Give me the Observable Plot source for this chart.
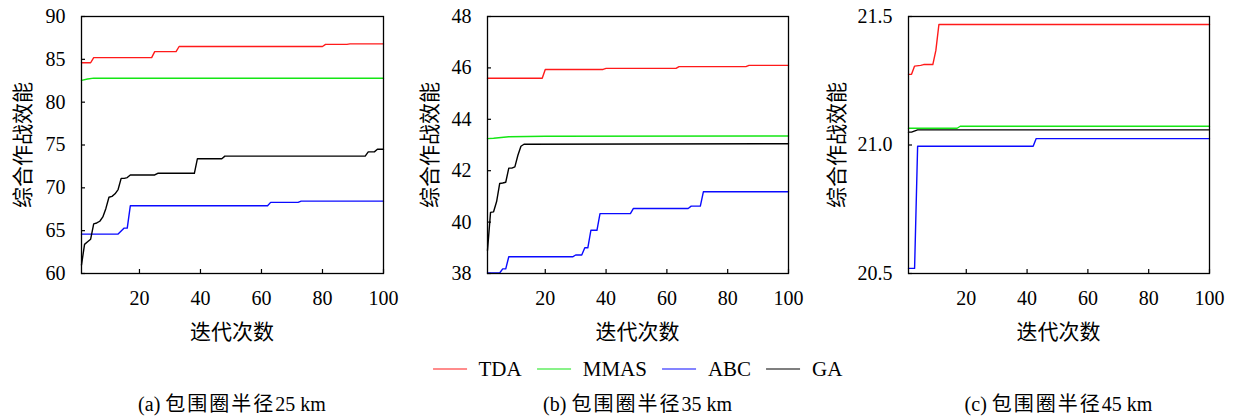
<!DOCTYPE html>
<html><head><meta charset="utf-8">
<script src="https://cdn.jsdelivr.net/npm/d3@7"></script>
<script src="https://cdn.jsdelivr.net/npm/@observablehq/plot@0.6"></script>
<style>
body{margin:0;background:#fff;}
#wrap{position:relative;width:1236px;height:419px;font-family:"Liberation Serif","Times New Roman",Tinos,"DejaVu Serif",serif;color:#000;overflow:hidden;}
.panel{position:absolute;top:0;}
.lbl{position:absolute;white-space:nowrap;line-height:1;}
.cjk{font-family:"Noto Sans CJK SC",sans-serif;}
.legend{position:absolute;display:flex;align-items:center;white-space:nowrap;line-height:1;}
.legend .sw{display:inline-block;width:34px;height:0;border-top:1.5px solid;margin-right:12px;}
.legend .tx{margin-right:15px;}
</style></head><body><div id="wrap"></div>
<script>
// ---------- data ----------
const seriesNames = ["TDA", "MMAS", "ABC", "GA"];
const seriesColors = ["#ff1a1a", "#14e614", "#0a0aff", "#000000"];
const iterTicks = [20, 40, 60, 80, 100];
const yTicks25 = [60, 65, 70, 75, 80, 85, 90];
const yTicks35 = [38, 40, 42, 44, 46, 48];
const yTicks45 = [20.5, 21.0, 21.5];
const yLabel = "综合作战效能";
const xLabel = "迭代次数";
const captionTags = ["(a)", "(b)", "(c)"];
const captionTexts = ["包围圈半径", "包围圈半径", "包围圈半径"];
const captionRadii = ["25 km", "35 km", "45 km"];

// panel (a): radius 25 km  [iteration, value]
const tda25 = [[1,84.6],[4,84.6],[5,85.2],[24,85.2],[25,85.9],[32,85.9],[33,86.5],[80,86.5],[81,86.75],[88,86.75],[89,86.8],[100,86.8]];
const mmas25 = [[1,82.55],[3,82.7],[5,82.8],[100,82.8]];
const abc25 = [[1,64.6],[13,64.6],[15,65.3],[16,65.3],[17,67.9],[62,67.9],[63,68.3],[72,68.3],[73,68.45],[100,68.45]];
const ga25 = [[1,61.0],[2,63.4],[3,63.7],[4,64.0],[5,65.8],[6,65.9],[7,66.1],[8,66.6],[9,67.6],[10,68.9],[11,69.0],[12,69.3],[13,69.8],[14,71.1],[15,71.1],[16,71.2],[17,71.5],[25,71.5],[26,71.7],[38,71.7],[39,73.4],[47,73.4],[48,73.7],[94,73.7],[95,74.2],[97,74.2],[98,74.5],[100,74.5]];

// panel (b): radius 35 km
const tda35 = [[1,45.6],[19,45.6],[20,45.94],[39,45.94],[40,45.98],[63,45.98],[64,46.05],[86,46.05],[87,46.1],[100,46.1]];
const mmas35 = [[1,43.25],[3,43.26],[8,43.32],[20,43.34],[100,43.35]];
const abc35 = [[1,38.02],[5,38.02],[6,38.18],[7,38.18],[8,38.65],[29,38.65],[30,38.72],[32,38.72],[33,39.0],[34,39.0],[35,39.68],[37,39.68],[38,40.33],[48,40.33],[49,40.53],[67,40.53],[68,40.62],[71,40.62],[72,41.18],[100,41.18]];
const ga35 = [[1,38.9],[2,40.38],[3,40.4],[4,40.8],[5,41.5],[6,41.52],[7,41.55],[8,42.1],[9,42.1],[10,42.15],[11,42.6],[12,42.95],[13,43.03],[100,43.05]];

// panel (c): radius 45 km
const tda45 = [[1,21.275],[2,21.275],[3,21.307],[5,21.31],[6,21.313],[9,21.313],[10,21.368],[11,21.469],[100,21.469]];
const mmas45 = [[1,21.065],[17,21.065],[18,21.073],[100,21.073]];
const abc45 = [[1,20.52],[3,20.52],[4,20.995],[42,20.995],[43,21.025],[100,21.025]];
const ga45 = [[1,21.05],[2,21.05],[4,21.059],[100,21.059]];

// ---------- build ----------
function rows(name, pts) { return pts.map(([i, v]) => ({series: name, iter: i, value: v})); }
const fontStack = '"Liberation Serif","Times New Roman",Tinos,"DejaVu Serif",serif';

const panels = [
  {data: [rows("TDA",tda25), rows("MMAS",mmas25), rows("ABC",abc25), rows("GA",ga25)].flat(),
   yDomain: [60, 90], yTicks: yTicks25, fmt: d3.format("d"), left: 0, width: 400, ml: 81, mr: 17, ylx: 21},
  {data: [rows("TDA",tda35), rows("MMAS",mmas35), rows("ABC",abc35), rows("GA",ga35)].flat(),
   yDomain: [38, 48], yTicks: yTicks35, fmt: d3.format("d"), left: 400, width: 410, ml: 87, mr: 22, ylx: 428},
  {data: [rows("TDA",tda45), rows("MMAS",mmas45), rows("ABC",abc45), rows("GA",ga45)].flat(),
   yDomain: [20.5, 21.5], yTicks: yTicks45, fmt: d3.format(".1f"), left: 810, width: 426, ml: 98, mr: 27, ylx: 835}
];

const wrap = document.getElementById("wrap");
const H = 310, MT = 16, MB = 37;

panels.forEach((p, k) => {
  const chart = Plot.plot({
    width: p.width, height: H,
    marginLeft: p.ml, marginRight: p.mr, marginTop: MT, marginBottom: MB,
    style: {fontFamily: fontStack, fontSize: "20px", background: "transparent", overflow: "visible"},
    x: {domain: [1, 100]},
    y: {domain: p.yDomain},
    color: {domain: seriesNames, range: seriesColors},
    marks: [
      Plot.line(p.data, {x: "iter", y: "value", z: "series", stroke: "series", strokeWidth: 1.4}),
      Plot.axisX({ticks: iterTicks, tickSize: -4, tickPadding: 21, label: null, strokeWidth: 1.2}),
      Plot.axisY({ticks: p.yTicks, tickSize: -4, tickPadding: 20, tickFormat: p.fmt, label: null, strokeWidth: 1.2}),
      Plot.frame({stroke: "#000", strokeWidth: 1.3})
    ]
  });
  chart.classList.add("panel");
  chart.style.left = p.left + "px";
  wrap.appendChild(chart);

  const frameCx = p.left + p.ml + (p.width - p.ml - p.mr) / 2;
  // y label (rotated)
  const yl = document.createElement("div");
  yl.className = "lbl cjk";
  yl.textContent = yLabel;
  yl.style.fontSize = "21px";
  yl.style.left = p.ylx + "px";
  yl.style.top = (MT + (H - MT - MB) / 2) + "px";
  yl.style.transform = "translate(-50%,-50%) rotate(-90deg)";
  wrap.appendChild(yl);
  // x label
  const xl = document.createElement("div");
  xl.className = "lbl cjk";
  xl.textContent = xLabel;
  xl.style.fontSize = "21px";
  xl.style.left = frameCx + "px";
  xl.style.top = "330px";
  xl.style.transform = "translate(-50%,-50%)";
  wrap.appendChild(xl);
  // caption
  const cp = document.createElement("div");
  cp.className = "lbl";
  cp.style.fontSize = "20px";
  const a = document.createElement("span"); a.textContent = captionTags[k] + " ";
  const b = document.createElement("span"); b.className = "cjk"; b.textContent = captionTexts[k];
  b.style.letterSpacing = "2px";
  const c = document.createElement("span"); c.textContent = captionRadii[k];
  cp.appendChild(a); cp.appendChild(b); cp.appendChild(c);
  cp.style.left = frameCx + "px";
  cp.style.top = "403px";
  cp.style.transform = "translate(-50%,-50%)";
  wrap.appendChild(cp);
});

// legend
const lg = document.createElement("div");
lg.className = "legend";
lg.style.fontSize = "21px";
seriesNames.forEach((n, i) => {
  const sw = document.createElement("span");
  sw.className = "sw";
  sw.style.borderTopColor = seriesColors[i];
  const tx = document.createElement("span");
  tx.className = "tx";
  tx.textContent = n;
  if (i === seriesNames.length - 1) tx.style.marginRight = "0";
  lg.appendChild(sw); lg.appendChild(tx);
});
lg.style.left = "637.5px";
lg.style.top = "369px";
lg.style.transform = "translate(-50%,-50%)";
wrap.appendChild(lg);
</script>
</body></html>
